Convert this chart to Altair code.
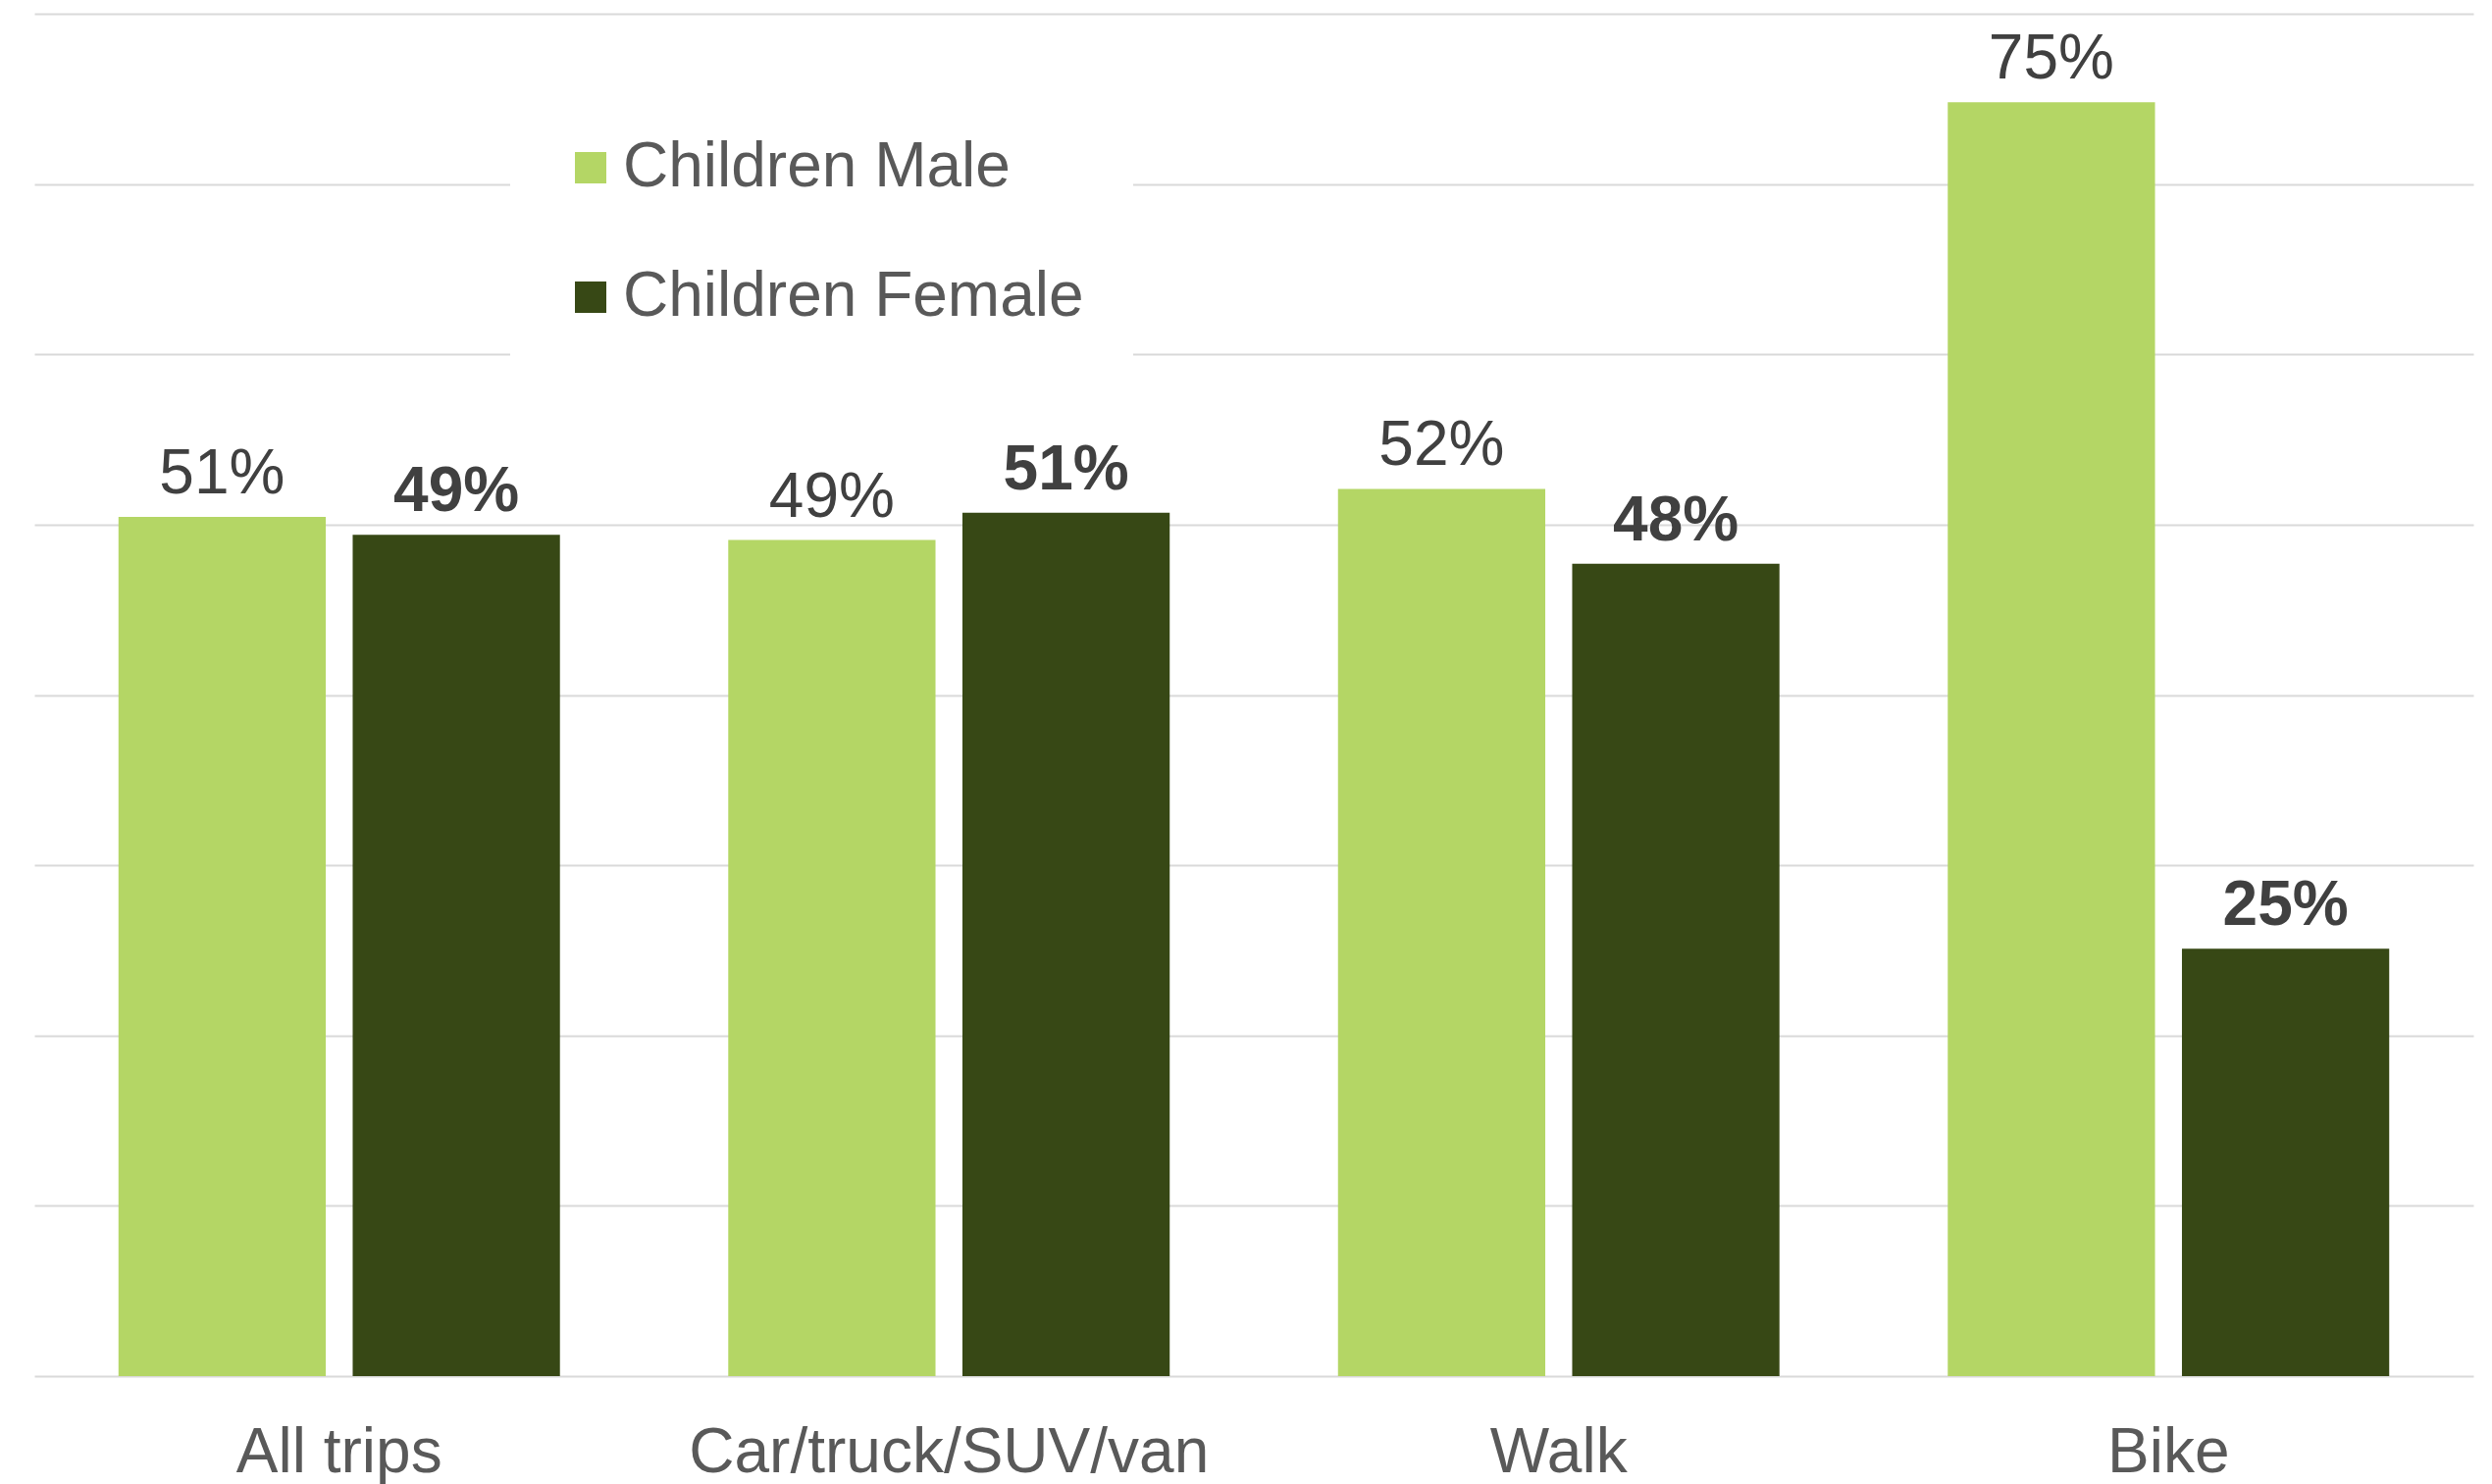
import altair as alt
import pandas as pd

categories = ["All trips", "Car/truck/SUV/van", "Walk", "Bike"]
series = ["Children Male", "Children Female"]
male_values = [0.5045, 0.491, 0.521, 0.748]
female_values = [0.494, 0.507, 0.477, 0.251]
male_labels = ["51%", "49%", "52%", "75%"]
female_labels = ["49%", "51%", "48%", "25%"]
colors = ["#B4D665", "#374815"]
grid_values = [0, 0.1, 0.2, 0.3, 0.4, 0.5, 0.6, 0.7, 0.8]

rows = []
for c, v, l in zip(categories, male_values, male_labels):
    rows.append({"mode": c, "group": series[0], "value": v, "label": l})
for c, v, l in zip(categories, female_values, female_labels):
    rows.append({"mode": c, "group": series[1], "value": v, "label": l})
df = pd.DataFrame(rows)

FONT = "Liberation Sans"

x_enc = alt.X(
    "mode:N",
    sort=categories,
    scale=alt.Scale(paddingInner=0.276, paddingOuter=0.138),
    axis=alt.Axis(
        title=None,
        labelAngle=0,
        labelFontSize=64,
        labelColor="#595959",
        labelFont=FONT,
        labelPadding=46,
        labelLimit=0,
        ticks=False,
        tickSize=0,
        domain=False,
        grid=False,
    ),
)
xoff_enc = alt.XOffset("group:N", sort=series, scale=alt.Scale(paddingInner=0.115))
y_enc = alt.Y(
    "value:Q",
    scale=alt.Scale(domain=[0, 0.8], nice=False, zero=True),
    axis=alt.Axis(
        title=None,
        values=grid_values,
        labels=False,
        ticks=False,
        domain=False,
        grid=True,
        gridColor="#D9D9D9",
        gridWidth=2,
    ),
)

base = alt.Chart(df)

bars = base.mark_bar().encode(
    x=x_enc,
    xOffset=xoff_enc,
    y=y_enc,
    color=alt.Color(
        "group:N",
        sort=series,
        scale=alt.Scale(domain=series, range=colors),
        legend=alt.Legend(
            title=None,
            orient="none",
            legendX=485,
            legendY=75,
            padding=50,
            fillColor="white",
            symbolType="square",
            symbolSize=1024,
            symbolStrokeWidth=0,
            labelFontSize=64,
            labelFont=FONT,
            labelColor="#595959",
            labelOffset=1,
            labelLimit=0,
            rowPadding=68,
            direction="vertical",
        ),
    ),
)

male_text = base.transform_filter(alt.datum.group == series[0]).mark_text(
    font=FONT, fontSize=64, color="#404040", baseline="alphabetic", dy=-24
).encode(x=x_enc, xOffset=xoff_enc, y=y_enc, text="label:N")

female_text = base.transform_filter(alt.datum.group == series[1]).mark_text(
    font=FONT, fontSize=64, fontWeight="bold", color="#404040", baseline="alphabetic", dy=-24
).encode(x=x_enc, xOffset=xoff_enc, y=y_enc, text="label:N")

chart = (
    alt.layer(bars, male_text, female_text)
    .properties(
        width=2486,
        height=1389,
        autosize=alt.AutoSizeParams(type="none"),
        padding={"left": 35, "top": 14, "right": 19, "bottom": 110},
        background="white",
    )
    .configure_view(stroke=None)
)

chart.save("out.html", embed_options={"renderer": "svg", "actions": False})
